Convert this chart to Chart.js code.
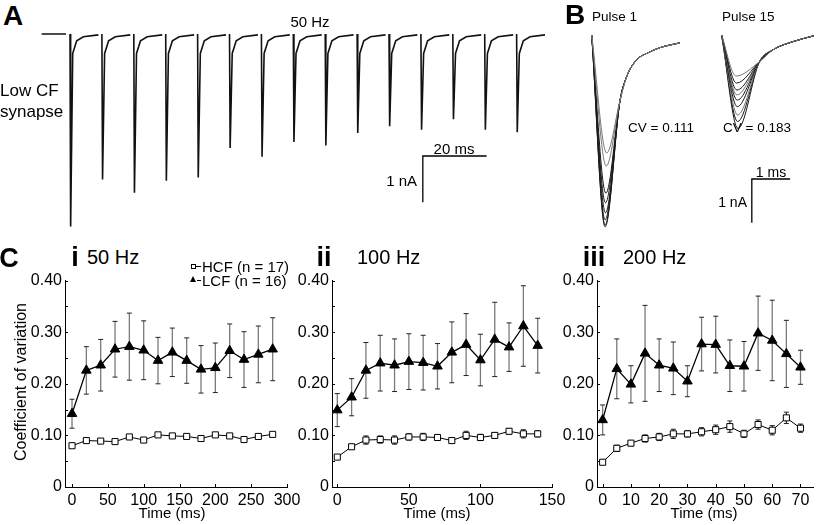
<!DOCTYPE html>
<html>
<head>
<meta charset="utf-8">
<script src="https://cdn.jsdelivr.net/npm/chart.js@4.4.1/dist/chart.umd.min.js"></script>
<style>
  html, body { margin: 0; padding: 0; background: #fff; }
  #fig { position: relative; width: 820px; height: 525px; overflow: hidden;
         font-family: "Liberation Sans", Arial, sans-serif; color: #000; }
  #fig canvas { position: absolute; }
  .t { position: absolute; white-space: nowrap; line-height: 1; }
  .c { transform: translate(-50%, -50%); }
  .l { transform: translateY(-50%); }
  .r { transform: translate(-100%, -50%); }
  .b { font-weight: bold; }
  .mk { position: absolute; }
</style>
</head>
<body>
<div id="fig">
  <canvas id="chartA" width="530" height="210" style="left:30px;top:25px"></canvas>
  <canvas id="chartB" width="240" height="210" style="left:580px;top:25px"></canvas>
  <canvas id="chartCi" width="305" height="257" style="left:0px;top:268px"></canvas>
  <canvas id="chartCii" width="290" height="257" style="left:280px;top:268px"></canvas>
  <canvas id="chartCiii" width="270" height="257" style="left:550px;top:268px"></canvas>

  <!-- panel A text -->
  <div class="t c b" style="left:13px;top:16px;font-size:28px">A</div>
  <div class="t c" style="left:310px;top:21px;font-size:15px">50 Hz</div>
  <div class="t l" style="left:0px;top:90px;font-size:17px">Low CF</div>
  <div class="t l" style="left:0px;top:111px;font-size:17px">synapse</div>
  <div class="t c" style="left:454px;top:148px;font-size:15px">20 ms</div>
  <div class="t r" style="left:417px;top:180px;font-size:15px">1 nA</div>

  <!-- panel B text -->
  <div class="t c b" style="left:575px;top:15px;font-size:28px">B</div>
  <div class="t l" style="left:592px;top:17px;font-size:13.5px">Pulse 1</div>
  <div class="t l" style="left:722px;top:17px;font-size:13.5px">Pulse 15</div>
  <div class="t l" style="left:628px;top:128px;font-size:13.5px">CV = 0.111</div>
  <div class="t l" style="left:723px;top:128px;font-size:13.5px">CV = 0.183</div>
  <div class="t c" style="left:771px;top:172px;font-size:14px">1 ms</div>
  <div class="t r" style="left:747px;top:202px;font-size:14px">1 nA</div>

  <!-- panel C text -->
  <div class="t c b" style="left:9px;top:258px;font-size:27px">C</div>
  <div class="t c b" style="left:75px;top:257px;font-size:27px">i</div>
  <div class="t l" style="left:87px;top:257px;font-size:20px">50 Hz</div>
  <div class="t c b" style="left:324px;top:257px;font-size:27px">ii</div>
  <div class="t l" style="left:357px;top:257px;font-size:20px">100 Hz</div>
  <div class="t c b" style="left:594px;top:257px;font-size:27px">iii</div>
  <div class="t l" style="left:623px;top:257px;font-size:20px">200 Hz</div>

  <div class="mk" style="left:191px;top:264px;width:3px;height:3px;border:1px solid #000;background:#fff"></div>
  <div class="mk" style="left:196px;top:266px;width:5px;height:1px;background:#000"></div>
  <div class="t l" style="left:202px;top:266px;font-size:15px">HCF (n = 17)</div>
  <div class="mk" style="left:190px;top:276px;width:0;height:0;border-left:3.5px solid transparent;border-right:3.5px solid transparent;border-bottom:6px solid #000"></div>
  <div class="mk" style="left:197px;top:280px;width:4px;height:1px;background:#000"></div>
  <div class="t l" style="left:202px;top:280px;font-size:15px">LCF (n = 16)</div>

  <div class="t c" style="left:21px;top:382px;font-size:16px;transform:translate(-50%,-50%) rotate(-90deg)">Coefficient of variation</div>
  <div class="t c" style="left:172px;top:512px;font-size:15px">Time (ms)</div>
  <div class="t c" style="left:437px;top:512px;font-size:15px">Time (ms)</div>
  <div class="t c" style="left:704px;top:512px;font-size:15px">Time (ms)</div>
</div>

<script>
// ---------- A: EPSC train, low CF synapse (x in ms, y in nA) ----------
const pulseTimesA = [0, 10, 20, 30, 40, 50, 60, 70, 80, 90, 100, 110, 120, 130, 140];
const peaksA = [4.16, 3.14, 3.43, 3.17, 3.10, 2.46, 2.65, 2.33, 2.41, 2.14, 1.99, 2.07, 1.84, 2.07, 2.12];
const peakDelayA = 0.2;
const tailTimesA = [0.85, 2.1, 4.2, 8.9];
const tailValuesA = [-0.42, -0.145, -0.06, -0.02];
const preBaselineA = [-8.9, -1.25];

// ---------- B: overlaid sweeps of pulse 1 and pulse 15 ----------
const pulse1Peaks = [2.70, 3.00, 3.62, 3.84, 4.07, 4.23, 4.35, 4.39];
const pulse1PeakTimes = [0.39, 0.38, 0.37, 0.36, 0.36, 0.35, 0.35, 0.35];
const pulse1DecayT = [0.74, 0.91, 1.17, 1.44, 1.78, 2.3];
const pulse1DecayV = [-1.5, -0.96, -0.57, -0.42, -0.29, -0.18];
const pulse15Onset = 3.39;
const pulse15Peaks = [0.94, 1.10, 1.26, 1.37, 1.49, 1.64, 1.83, 1.98, 2.14];
const pulse15PeakTimes = [0.38, 0.39, 0.40, 0.40, 0.41, 0.41, 0.42, 0.42, 0.43];
const pulse15DecayT = [0.99, 1.34, 1.87, 2.4];
const pulse15DecayV = [-0.61, -0.34, -0.15, -0.02];

// ---------- C: coefficient of variation ----------
const yTickValuesC = [0, 0.05, 0.10, 0.15, 0.20, 0.25, 0.30, 0.35, 0.40];
const yTickLabelsC = ['0', '', '0.10', '', '0.20', '', '0.30', '', '0.40'];

// i: 50 Hz
const timeCi = [0, 20, 40, 60, 80, 100, 120, 140, 160, 180, 200, 220, 240, 260, 280];
const xTicksCi = [0, 50, 100, 150, 200, 250, 300];
const hcfCi = [0.080, 0.090, 0.089, 0.088, 0.097, 0.091, 0.101, 0.099, 0.098, 0.094, 0.101, 0.099, 0.092, 0.098, 0.102];
const hcfErrCi = [0.003, 0.004, 0.003, 0.003, 0.004, 0.003, 0.004, 0.003, 0.004, 0.003, 0.004, 0.003, 0.003, 0.004, 0.004];
const lcfCi = [0.142, 0.226, 0.236, 0.267, 0.272, 0.265, 0.245, 0.261, 0.245, 0.228, 0.231, 0.264, 0.247, 0.257, 0.267];
const lcfErrCi = [0.028, 0.046, 0.050, 0.054, 0.065, 0.057, 0.045, 0.047, 0.044, 0.046, 0.048, 0.052, 0.054, 0.055, 0.061];

// ii: 100 Hz
const timeCii = [0, 10, 20, 30, 40, 50, 60, 70, 80, 90, 100, 110, 120, 130, 140];
const xTicksCii = [0, 50, 100, 150];
const hcfCii = [0.058, 0.078, 0.091, 0.092, 0.091, 0.097, 0.097, 0.096, 0.090, 0.100, 0.096, 0.100, 0.108, 0.103, 0.103];
const hcfErrCii = [0.004, 0.004, 0.008, 0.007, 0.008, 0.006, 0.007, 0.005, 0.004, 0.008, 0.006, 0.005, 0.005, 0.008, 0.006];
const lcfCii = [0.149, 0.174, 0.226, 0.240, 0.236, 0.243, 0.241, 0.234, 0.261, 0.276, 0.246, 0.286, 0.271, 0.312, 0.274];
const lcfErrCii = [0.032, 0.036, 0.054, 0.054, 0.051, 0.054, 0.053, 0.044, 0.059, 0.060, 0.050, 0.072, 0.047, 0.078, 0.053];

// iii: 200 Hz
const timeCiii = [0, 5, 10, 15, 20, 25, 30, 35, 40, 45, 50, 55, 60, 65, 70];
const xTicksCiii = [0, 10, 20, 30, 40, 50, 60, 70];
const hcfCiii = [0.048, 0.075, 0.085, 0.094, 0.097, 0.103, 0.103, 0.107, 0.111, 0.117, 0.103, 0.121, 0.110, 0.134, 0.114];
const hcfErrCiii = [0.004, 0.006, 0.005, 0.007, 0.007, 0.009, 0.006, 0.008, 0.009, 0.011, 0.007, 0.009, 0.009, 0.011, 0.008];
const lcfCiii = [0.130, 0.229, 0.199, 0.259, 0.236, 0.230, 0.205, 0.277, 0.276, 0.235, 0.234, 0.298, 0.284, 0.258, 0.232];
const lcfErrCiii = [0.029, 0.058, 0.036, 0.093, 0.051, 0.051, 0.030, 0.052, 0.055, 0.050, 0.048, 0.072, 0.078, 0.065, 0.033];

// ---------------------------------------------------------------
const bare = {
    responsive: false, animation: false, devicePixelRatio: 1,
    layout: { padding: 0 },
    plugins: { legend: { display: false }, tooltip: { enabled: false } },
    elements: { point: { radius: 0 } },
};

// A trace: one polyline, broken between pulses
const traceA = [{ x: preBaselineA[0], y: 0 }, { x: preBaselineA[1], y: 0 }, { x: -0.5, y: null }];
pulseTimesA.forEach(function (t, i) {
    traceA.push({ x: t, y: 0 }, { x: t + peakDelayA, y: -peaksA[i] });
    tailTimesA.forEach(function (d, k) { traceA.push({ x: t + d, y: tailValuesA[k] }); });
    traceA.push({ x: t + 9.5, y: null });
});

new Chart(document.getElementById("chartA"), {
    type: "scatter",
    data: {
        datasets: [
            { data: traceA, showLine: true, spanGaps: false, borderColor: "#111", borderWidth: 1.6 },
            // scale bar 20 ms / 1 nA
            { data: [{ x: 130.6, y: -2.635 }, { x: 110.6, y: -2.635 }, { x: 110.6, y: -3.635 }],
              showLine: true, borderColor: "#000", borderWidth: 1.3 },
        ],
    },
    options: Object.assign({}, bare, {
        scales: {
            x: { type: "linear", display: false, min: -12.54, max: 153.6 },
            y: { display: false, min: -4.341, max: 0.194 },
        },
    }),
});

// B traces
const sweepsB = [];
pulse1Peaks.forEach(function (a, i) {
    const pts = [{ x: 0, y: 0 }, { x: pulse1PeakTimes[i], y: -a }];
    pulse1DecayT.forEach(function (d, k) { pts.push({ x: d, y: pulse1DecayV[k] }); });
    sweepsB.push({ data: pts, showLine: true, cubicInterpolationMode: "monotone",
                   borderColor: i < 2 ? "#777" : "#1a1a1a", borderWidth: 1 });
});
pulse15Peaks.forEach(function (a, i) {
    const pts = [{ x: pulse15Onset, y: 0 }, { x: pulse15Onset + pulse15PeakTimes[i], y: -a }];
    pulse15DecayT.forEach(function (d, k) { pts.push({ x: pulse15Onset + d, y: pulse15DecayV[k] }); });
    sweepsB.push({ data: pts, showLine: true, cubicInterpolationMode: "monotone",
                   borderColor: i % 3 === 0 ? "#777" : "#1a1a1a", borderWidth: 1 });
});
sweepsB.push({ data: [{ x: 5.18, y: -3.295 }, { x: 4.18, y: -3.295 }, { x: 4.18, y: -4.295 }],
               showLine: true, borderColor: "#000", borderWidth: 1.3 });

new Chart(document.getElementById("chartB"), {
    type: "scatter",
    data: { datasets: sweepsB },
    options: Object.assign({}, bare, {
        scales: {
            x: { type: "linear", display: false, min: -0.305, max: 5.96 },
            y: { display: false, min: -4.577, max: 0.229 },
        },
    }),
});

// error bars drawn under the markers
const errorBars = {
    id: "errorBars",
    beforeDatasetsDraw(chart) {
        const ctx = chart.ctx, xs = chart.scales.x, ys = chart.scales.y;
        chart.data.datasets.forEach(function (ds) {
            if (!ds.errors) return;
            ctx.save();
            ds.data.forEach(function (p, i) {
                const px = xs.getPixelForValue(p.x);
                const top = ys.getPixelForValue(p.y + ds.errors[i]);
                const bot = ys.getPixelForValue(p.y - ds.errors[i]);
                ctx.strokeStyle = ds.errorColor;
                ctx.lineWidth = 1.3;
                ctx.beginPath(); ctx.moveTo(px, top); ctx.lineTo(px, bot); ctx.stroke();
                ctx.strokeStyle = "#222";
                ctx.lineWidth = 1;
                ctx.beginPath();
                ctx.moveTo(px - 2.5, top); ctx.lineTo(px + 2.5, top);
                ctx.moveTo(px - 2.5, bot); ctx.lineTo(px + 2.5, bot);
                ctx.stroke();
            });
            ctx.restore();
        });
    },
};

// small tick marks pointing into the plot
const inwardTicks = {
    id: "inwardTicks",
    afterDraw(chart) {
        const ctx = chart.ctx, xs = chart.scales.x, ys = chart.scales.y, a = chart.chartArea;
        ctx.save();
        ctx.strokeStyle = "#000";
        ctx.lineWidth = 1;
        ctx.beginPath();
        ys.ticks.forEach(function (t) {
            const py = Math.round(ys.getPixelForValue(t.value)) + 0.5;
            ctx.moveTo(a.left, py); ctx.lineTo(a.left + 3, py);
        });
        xs.ticks.forEach(function (t) {
            const px = Math.round(xs.getPixelForValue(t.value)) + 0.5;
            ctx.moveTo(px, a.bottom); ctx.lineTo(px, a.bottom - 3);
        });
        ctx.stroke();
        ctx.restore();
    },
};

function cvChart(id, times, hcf, hcfErr, lcf, lcfErr, xMin, xMax, xTicks, axisWidth, padRight) {
    return new Chart(document.getElementById(id), {
        type: "scatter",
        data: {
            datasets: [
                {
                    label: "LCF",
                    data: times.map(function (t, i) { return { x: t, y: lcf[i] }; }),
                    errors: lcfErr, errorColor: "#7a7a7a",
                    showLine: true, borderColor: "#000", borderWidth: 1.3,
                    pointStyle: "triangle", pointRadius: 5.5,
                    pointBackgroundColor: "#000", pointBorderColor: "#000", pointBorderWidth: 1,
                },
                {
                    label: "HCF",
                    data: times.map(function (t, i) { return { x: t, y: hcf[i] }; }),
                    errors: hcfErr, errorColor: "#333",
                    showLine: true, borderColor: "#000", borderWidth: 1,
                    pointStyle: "rect", pointRadius: 4.3,
                    pointBackgroundColor: "#fff", pointBorderColor: "#000", pointBorderWidth: 1,
                },
            ],
        },
        options: {
            responsive: false, animation: false, devicePixelRatio: 1,
            layout: { padding: { top: 11, right: padRight, left: 0, bottom: 0 } },
            plugins: { legend: { display: false }, tooltip: { enabled: false } },
            scales: {
                x: {
                    type: "linear", min: xMin, max: xMax,
                    grid: { display: false, drawTicks: false },
                    border: { color: "#000", width: 1 },
                    ticks: { padding: 4, color: "#000", font: { size: 16 }, autoSkip: false, maxRotation: 0 },
                    afterBuildTicks: function (s) { s.ticks = xTicks.map(function (v) { return { value: v }; }); },
                    afterFit: function (s) { s.height = 38; },
                },
                y: {
                    min: 0, max: 0.4,
                    grid: { display: false, drawTicks: false },
                    border: { color: "#000", width: 1 },
                    ticks: { padding: 3, color: "#000", font: { size: 16 }, autoSkip: false,
                             callback: function (v, i) { return yTickLabelsC[i]; } },
                    afterBuildTicks: function (s) { s.ticks = yTickValuesC.map(function (v) { return { value: v }; }); },
                    afterFit: function (s) { s.width = axisWidth; },
                },
            },
        },
        plugins: [errorBars, inwardTicks],
    });
}

Chart.defaults.font.family = '"Liberation Sans", Arial, sans-serif';
Chart.defaults.color = "#000";

cvChart("chartCi", timeCi, hcfCi, hcfErrCi, lcfCi, lcfErrCi, -9.8, 300, xTicksCi, 65, 18);
cvChart("chartCii", timeCii, hcfCii, hcfErrCii, lcfCii, lcfErrCii, -3.7, 150, xTicksCii, 52, 18);
cvChart("chartCiii", timeCiii, hcfCiii, hcfErrCiii, lcfCiii, lcfErrCiii, -2, 74.6, xTicksCiii, 47, 3.3);
</script>
</body>
</html>
